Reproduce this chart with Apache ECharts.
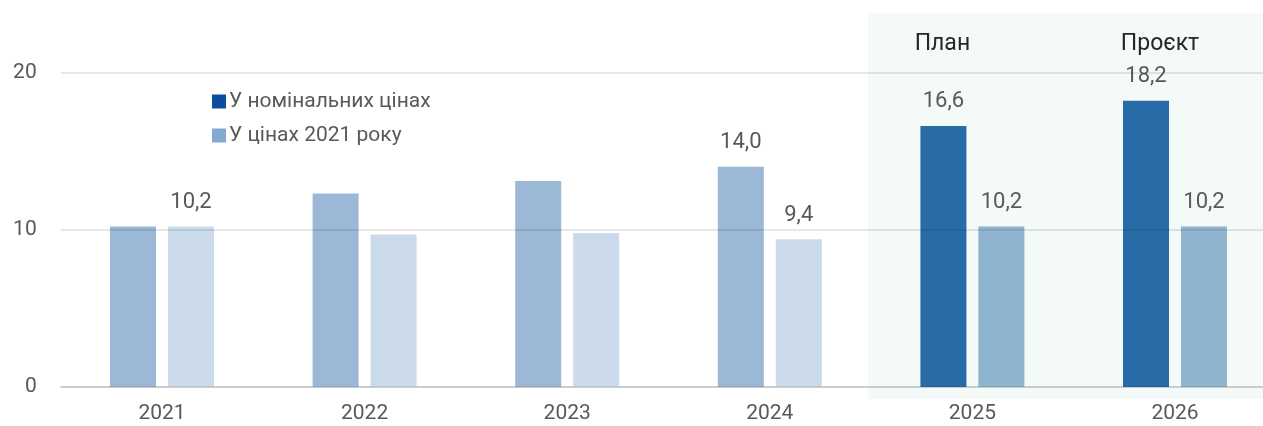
<!DOCTYPE html>
<html>
<head>
<meta charset="utf-8">
<script src="https://cdn.jsdelivr.net/npm/echarts@6/dist/echarts.min.js"></script>
<style>
  html, body { margin: 0; padding: 0; background: #fff; }
  #chart { width: 1263px; height: 426px; }
</style>
</head>
<body>
<div id="chart"></div>
<script>
// Years on the category axis
const years = ['2021', '2022', '2023', '2024', '2025', '2026'];
// Values, UAH bn
const nominal = [10.2, 12.3, 13.1, 14.0, 16.6, 18.2];
const real2021 = [10.2, 9.7, 9.8, 9.4, 10.2, 10.2];
// Which bars carry a value label
const nominalLabelled = [false, false, false, true, true, true];
const realLabelled = [true, false, false, true, true, true];
// Forecast years and their headings
const forecastYears = ['2025', '2026'];
const forecastTitles = ['План', 'Проєкт'];
const seriesNames = ['У номінальних цінах', 'У цінах 2021 року'];
const yTicks = [0, 10, 20];

const FONT = 'Roboto, "Noto Sans", sans-serif';
const GREY = '#595959';

function barData(values, labelled, histColor, fcColor) {
  return values.map((v, i) => ({
    value: v,
    itemStyle: { color: forecastYears.includes(years[i]) ? fcColor : histColor },
    label: { show: labelled[i] }
  }));
}

const fmt = p => p.value.toFixed(1).replace('.', ',');

const chart = echarts.init(document.getElementById('chart'), null, { renderer: 'canvas' });

const option = {
  animation: false,
  textStyle: { fontFamily: FONT },
  // the plot runs past the right edge of the canvas
  grid: { left: 60.7, width: 1215.6, top: 72.5, bottom: 39, containLabel: false, outerBoundsMode: 'none' },
  legend: {
    orient: 'vertical',
    left: 207,
    top: 86,
    itemWidth: 14,
    itemHeight: 14,
    itemGap: 13,
    icon: 'rect',
    textStyle: { color: GREY, fontSize: 21, fontFamily: FONT, padding: [0, 0, 0, -2] },
    data: seriesNames
  },
  xAxis: {
    type: 'category',
    data: years,
    axisLine: { show: true, lineStyle: { color: '#d9d9d9', width: 1.5 } },
    axisTick: { show: false },
    axisLabel: { color: GREY, fontSize: 21, margin: 16, fontFamily: FONT }
  },
  yAxis: {
    type: 'value',
    min: 0,
    max: 20,
    interval: 10,
    z: 3,
    axisLine: { show: false },
    axisTick: { show: false },
    splitLine: { lineStyle: { color: 'rgba(0,0,0,0.13)', width: 1.5 } },
    axisLabel: { color: GREY, fontSize: 21, margin: 24, fontFamily: FONT,
      formatter: v => yTicks.includes(v) ? String(v) : '' }
  },
  series: [
    {
      name: seriesNames[0],
      type: 'bar',
      color: '#0b4f9c',
      barWidth: 46,
      barGap: '26%',
      data: barData(nominal, nominalLabelled, '#9bb8d6', '#276ca6'),
      label: { position: 'top', distance: 13, color: GREY, fontSize: 22, fontFamily: FONT, formatter: fmt }
    },
    {
      name: seriesNames[1],
      type: 'bar',
      color: '#85a9d0',
      barWidth: 46,
      data: barData(real2021, realLabelled, '#cbdbeb', '#8fb4d0'),
      label: { position: 'top', distance: 13, color: GREY, fontSize: 22, fontFamily: FONT, formatter: fmt }
    }
  ]
};

chart.setOption(option);

// Shaded band behind the forecast years plus their headings
function drawForecastBand() {
  const first = chart.convertToPixel({ xAxisIndex: 0 }, forecastYears[0]);
  const step = chart.convertToPixel({ xAxisIndex: 0 }, years[1]) - chart.convertToPixel({ xAxisIndex: 0 }, years[0]);
  const zeroY = chart.convertToPixel({ yAxisIndex: 0 }, 0);
  const topY = chart.convertToPixel({ yAxisIndex: 0 }, 20);
  const left = first - step / 2 - 3;
  const elements = [{
    type: 'rect',
    z: -10,
    silent: true,
    shape: { x: left, y: topY - 59, width: 1263 - left, height: zeroY + 12 - (topY - 59) },
    style: { fill: '#f3faf8' }
  }];
  // headings sit over the nominal bar of each forecast year
  const headingShift = [-30, -15];
  forecastYears.forEach((y, i) => {
    const cx = chart.convertToPixel({ xAxisIndex: 0 }, y);
    elements.push({
      type: 'text',
      z: 10,
      silent: true,
      x: cx + headingShift[i],
      y: topY - 28,
      style: {
        text: forecastTitles[i],
        fill: '#262626',
        font: '23px ' + FONT,
        textAlign: 'center',
        textVerticalAlign: 'middle'
      }
    });
  });
  chart.setOption({ graphic: elements });
}
drawForecastBand();
</script>
</body>
</html>
